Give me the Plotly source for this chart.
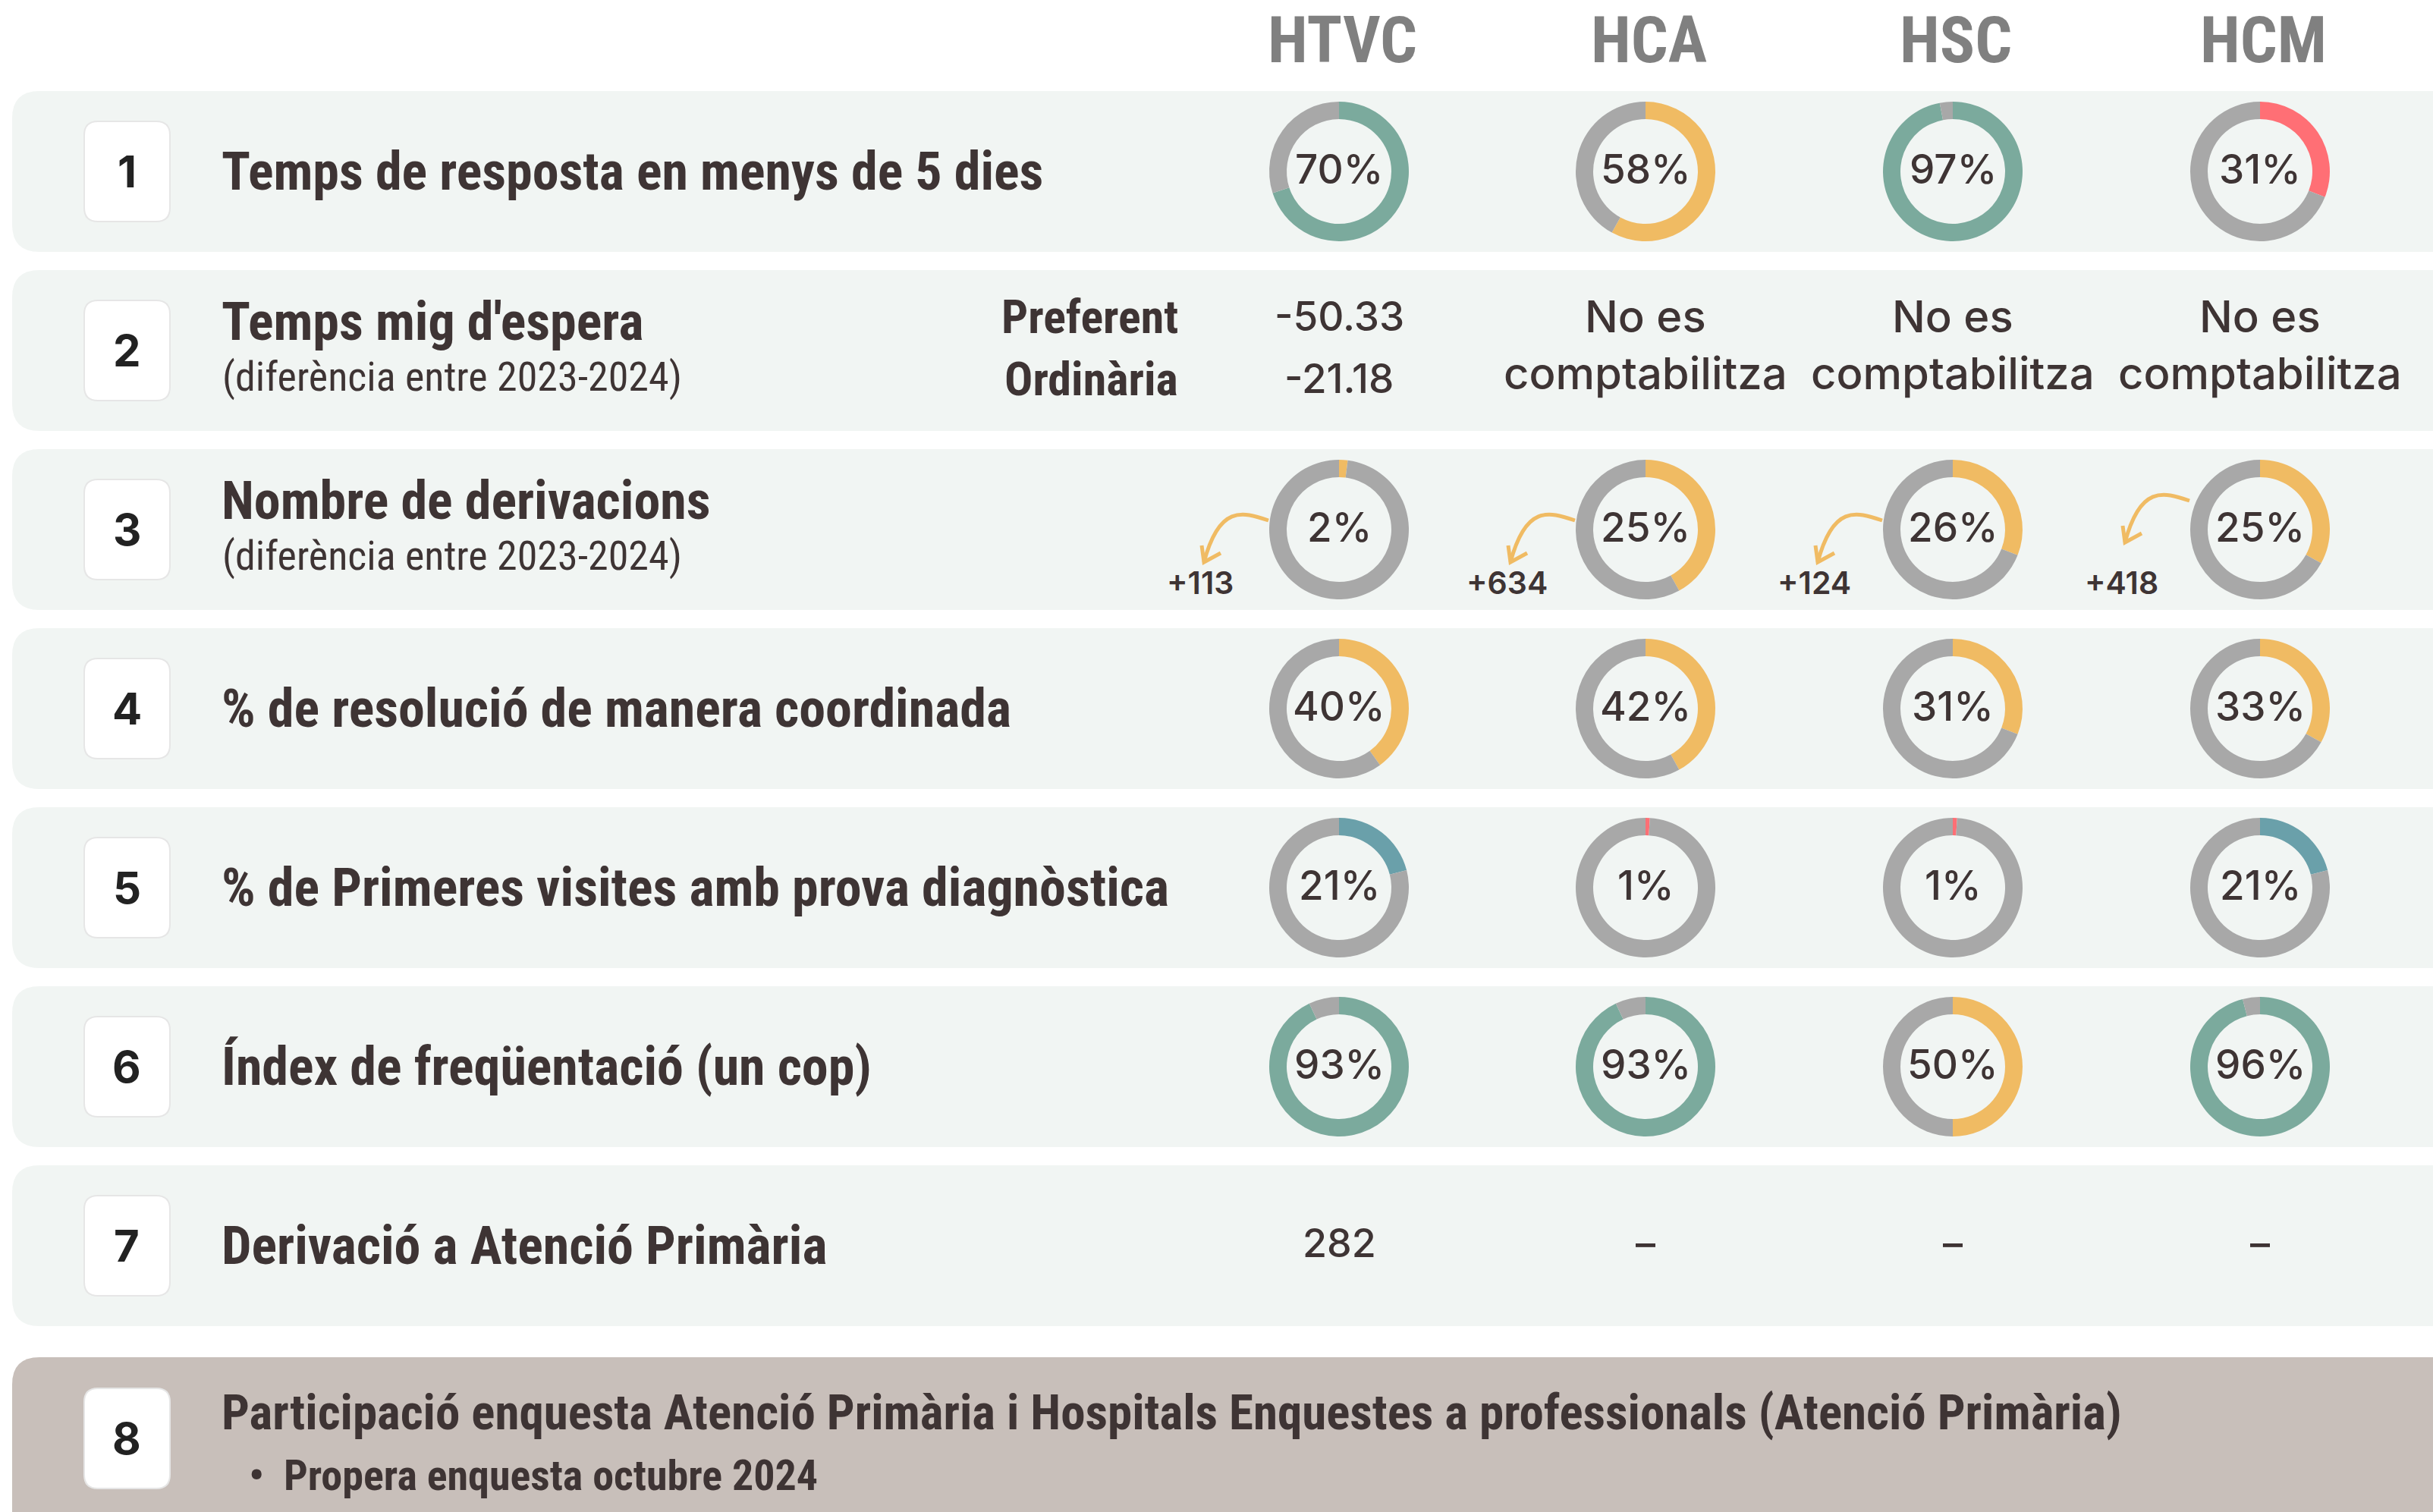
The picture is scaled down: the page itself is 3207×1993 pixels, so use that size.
import plotly.graph_objects as go

# ---------------- data ----------------
hospitals = ["HTVC", "HCA", "HSC", "HCM"]
row_numbers = ["1", "2", "3", "4", "5", "6", "7"]
row_titles = [
    "Temps de resposta en menys de 5 dies",
    "Temps mig d'espera",
    "Nombre de derivacions",
    "% de resolució de manera coordinada",
    "% de Primeres visites amb prova diagnòstica",
    "Índex de freqüentació (un cop)",
    "Derivació a Atenció Primària",
]
row_subtitles = ["", "(diferència entre 2023-2024)", "(diferència entre 2023-2024)", "", "", "", ""]

resposta_5_dies = [70, 58, 97, 31]
espera_tipus = ["Preferent", "Ordinària"]
espera_htvc = [-50.33, -21.18]
espera_altres = "No es<br>comptabilitza"
derivacions_label = [2, 25, 26, 25]
derivacions_arc = [2, 42, 31, 33]          # arc length as drawn in the picture
derivacions_diff = [113, 634, 124, 418]
resolucio_coordinada = [40, 42, 31, 33]
primeres_visites = [21, 1, 1, 21]
frequentacio = [93, 93, 50, 96]
derivacio_ap = ["282", "–", "–", "–"]

row8_number = "8"
row8_title = "Participació enquesta Atenció Primària i Hospitals Enquestes a professionals (Atenció Primària)"
row8_bullet = "Propera enquesta octubre 2024"

# ---------------- style ----------------
W, H = 3207, 1993
GREEN, YELLOW, RED, TEAL, GRAY = "#7baa9d", "#f0bb63", "#ff6f75", "#6aa0aa", "#a8a8a8"
ROW_BG, ROW8_BG = "#f1f5f3", "#c8bfba"
TXT = "#3e3434"
COND = "Liberation Sans Narrow, Roboto Condensed, DejaVu Sans Condensed, Lato, sans-serif"
GEO = "Inter, Lato, sans-serif"

col_x = [1765, 2169, 2574, 2979]
row_top0, row_step, row_h = 120, 236, 212
ring_r = 92

ring_rows = {
    0: (resposta_5_dies, resposta_5_dies, [GREEN, YELLOW, GREEN, RED]),
    2: (derivacions_arc, derivacions_label, [YELLOW] * 4),
    3: (resolucio_coordinada, resolucio_coordinada, [YELLOW] * 4),
    4: (primeres_visites, primeres_visites, [TEAL, RED, RED, TEAL]),
    5: (frequentacio, frequentacio, [GREEN, GREEN, YELLOW, GREEN]),
}
arrow_lift = [0, 0, 0, 26]


def rr(x0, y0, x1, y1, r):
    return (f"M{x0+r},{y0} L{x1-r},{y0} Q{x1},{y0} {x1},{y0+r} L{x1},{y1-r} "
            f"Q{x1},{y1} {x1-r},{y1} L{x0+r},{y1} Q{x0},{y1} {x0},{y1-r} "
            f"L{x0},{y0+r} Q{x0},{y0} {x0+r},{y0} Z")


fig = go.Figure()
shapes, ann = [], []


def text(x, y, s, size, family, color=TXT, weight="normal", xanchor="center"):
    ann.append(dict(x=x, y=y, xref="x", yref="y", text=s, showarrow=False,
                    xanchor=xanchor, yanchor="middle", align="center",
                    font=dict(size=size, family=family, color=color, weight=weight)))


def number_box(cy, label):
    shapes.append(dict(type="path", path=rr(111, cy - 66, 224, cy + 66, 18),
                       fillcolor="#ffffff", line=dict(color="#e6e6e6", width=2), layer="below"))
    text(167, cy, label, 58, GEO, "#222222", "bold")


# headers
for cx, h in zip(col_x, hospitals):
    text(cx + 4, 52, h, 86, COND, "#808080", "bold")

# rows 1..7
for i in range(7):
    top = row_top0 + i * row_step
    cy = top + row_h / 2
    shapes.append(dict(type="path", path=rr(16, top, W + 40, top + row_h, 36),
                       fillcolor=ROW_BG, line=dict(width=0), layer="below"))
    number_box(cy, row_numbers[i])
    if row_subtitles[i]:
        text(290, cy - 38, row_titles[i], 70, COND, TXT, "bold", "left")
        text(291, cy + 34, row_subtitles[i], 54, COND, TXT, "normal", "left")
    else:
        text(290, cy, row_titles[i], 70, COND, TXT, "bold", "left")

    if i in ring_rows:
        arcs, labels, colors = ring_rows[i]
        for j, cx in enumerate(col_x):
            fig.add_trace(go.Pie(
                values=[arcs[j], 100 - arcs[j]], sort=False, direction="clockwise",
                rotation=0, hole=0.75, textinfo="none", hoverinfo="skip",
                marker=dict(colors=[colors[j], GRAY], line=dict(width=0)),
                showlegend=False,
                domain=dict(x=[(cx - ring_r) / W, (cx + ring_r) / W],
                            y=[1 - (cy + ring_r) / H, 1 - (cy - ring_r) / H])))
            text(cx, cy - 3, f"{labels[j]}%", 53, GEO, TXT, 500)

# row 2 details
cy2 = row_top0 + row_step + row_h / 2
for k, (lab, val) in enumerate(zip(espera_tipus, espera_htvc)):
    yy = cy2 - 45 + k * 82
    text(1555, yy, lab, 62, COND, TXT, "bold", "right")
    text(col_x[0], yy, f"{val:.2f}", 53, GEO, TXT, 500)
for cx in col_x[1:]:
    ann.append(dict(x=cx, y=cy2 - 8, xref="x", yref="y", text=espera_altres, showarrow=False,
                    xanchor="center", yanchor="middle", align="center",
                    font=dict(size=58, family=GEO, color=TXT, weight=500)))

# row 3 arrows + differences
cy3 = row_top0 + 2 * row_step + row_h / 2
for j, cx in enumerate(col_x):
    lift = arrow_lift[j]
    sx, sy = cx - 93, cy3 - 12 - lift
    ex, ey = cx - 178, cy3 + 43 - lift
    shapes.append(dict(type="path",
                       path=f"M{sx},{sy} C{sx-35},{sy-12} {ex+20},{sy-20} {ex},{ey}",
                       line=dict(color=YELLOW, width=5)))
    shapes.append(dict(type="path", path=f"M{ex-3},{ey-22} L{ex},{ey} L{ex+22},{ey-12}",
                       line=dict(color=YELLOW, width=5)))
    text(cx - 183, cy3 + 70, f"+{derivacions_diff[j]}", 41, GEO, TXT, 600)

# row 7 values
cy7 = row_top0 + 6 * row_step + row_h / 2
for cx, v in zip(col_x, derivacio_ap):
    text(cx, cy7 - 4, v, 52, GEO, TXT, 500)

# row 8
shapes.append(dict(type="path", path=rr(16, 1789, W + 40, H + 60, 36),
                   fillcolor=ROW8_BG, line=dict(width=0), layer="below"))
number_box(1896, row8_number)
text(290, 1862, row8_title, 65, COND, TXT, "bold", "left")
text(326, 1945, "•  " + row8_bullet, 56, COND, TXT, "bold", "left")

fig.update_layout(
    width=W, height=H, margin=dict(l=0, r=0, t=0, b=0),
    paper_bgcolor="#ffffff", plot_bgcolor="#ffffff",
    xaxis=dict(range=[0, W], visible=False, fixedrange=True),
    yaxis=dict(range=[H, 0], visible=False, fixedrange=True),
    shapes=shapes, annotations=ann,
)
fig.write_html("out.html", config={"displayModeBar": False},
               post_script="document.body.style.margin='0';document.body.style.overflow='hidden';")
